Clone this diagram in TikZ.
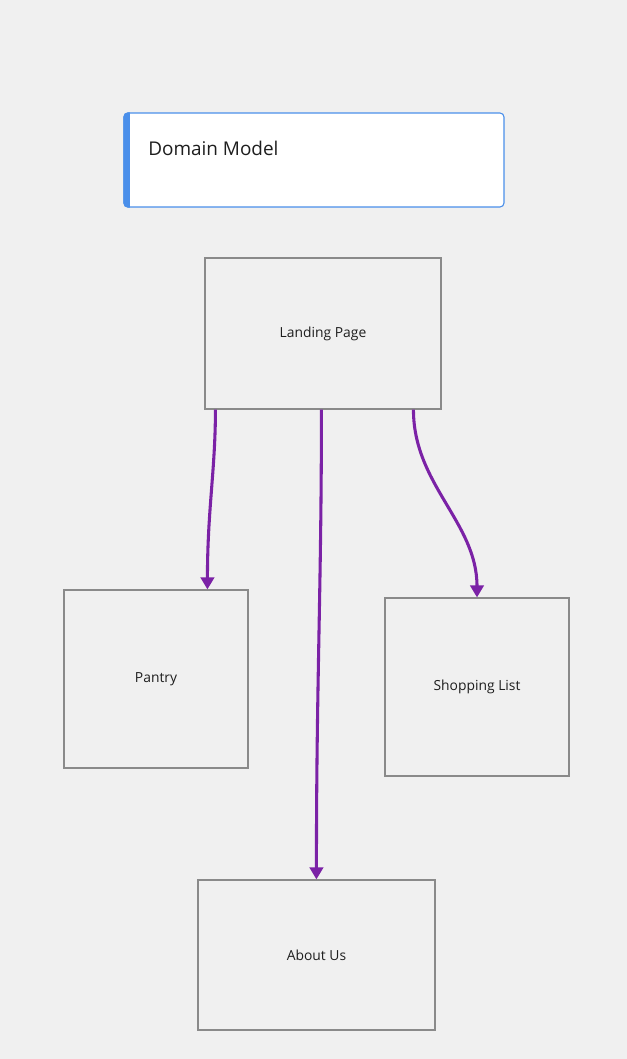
\documentclass[tikz,border=0pt]{standalone}
\usepackage{fontspec}
\setmainfont{Open Sans}
\usetikzlibrary{arrows.meta,calc}
\definecolor{bg}{HTML}{F0F0F0}
\definecolor{accent}{HTML}{4A8FEA}
\definecolor{boxline}{HTML}{8A8A8A}
\definecolor{link}{HTML}{7B22A6}
\definecolor{ink}{HTML}{1E1E1E}
\tikzset{
  pagebox/.style={draw=boxline, line width=0.85pt, fill=bg, inner sep=0pt, font=\fontsize{10.4}{12}\selectfont, text=ink},
  titlebox/.style={draw=accent, line width=0.8pt, fill=white, rounded corners=3pt, inner sep=0pt},
  titletext/.style={font=\fontsize{14.2}{17}\selectfont, text=ink, inner sep=0pt, anchor=west},
  flow/.style={draw=link, line width=2.3pt, -{Triangle[width=10pt,length=9pt]}, shorten >=0pt}
}
\begin{document}
\begin{tikzpicture}[x=0.75pt,y=-0.75pt]
\useasboundingbox[fill=bg] (0,0) rectangle (627,1059);
% title
\node[titlebox, minimum width=380*0.75pt, minimum height=94*0.75pt] (dm) at (314,160) {};
\begin{scope}
\clip[rounded corners=3pt] (dm.north west) rectangle (dm.south east);
\fill[accent] (dm.north west) rectangle ($(dm.south west)+(6.5,0)$);
\end{scope}
\node[titletext] (dmt) at (148,148) {Domain Model};
% pages
\node[pagebox, minimum width=236*0.75pt, minimum height=151*0.75pt] (lp) at (323,333.5) {Landing Page};
\node[pagebox, minimum width=184*0.75pt, minimum height=178*0.75pt] (pa) at (156,679) {Pantry};
\node[pagebox, minimum width=184*0.75pt, minimum height=178*0.75pt] (sl) at (477,687) {Shopping List};
\node[pagebox, minimum width=237*0.75pt, minimum height=150*0.75pt] (au) at (316.5,955) {About Us};
% connectors
\coordinate (lpA) at ($(lp.south west)+(11,0)$);
\coordinate (lpB) at ($(lp.south west)+(117,0)$);
\coordinate (lpC) at ($(lp.south west)+(209,0)$);
\coordinate (paT) at ($(pa.north west)+(144,0)$);
\coordinate (auT) at ($(au.north west)+(119,0)$);
\coordinate (slT) at (sl.north);
\draw[flow] (lpA) .. controls ($(lpA)+(0,60)$) and ($(paT)+(0,-80)$) .. (paT);
\draw[flow] (lpB) .. controls ($(lpB)+(0,180)$) and ($(auT)+(0,-200)$) .. (auT);
\draw[flow] (lpC) .. controls ($(lpC)+(0,75)$) and ($(slT)+(0,-75)$) .. (slT);
\end{tikzpicture}
\end{document}
